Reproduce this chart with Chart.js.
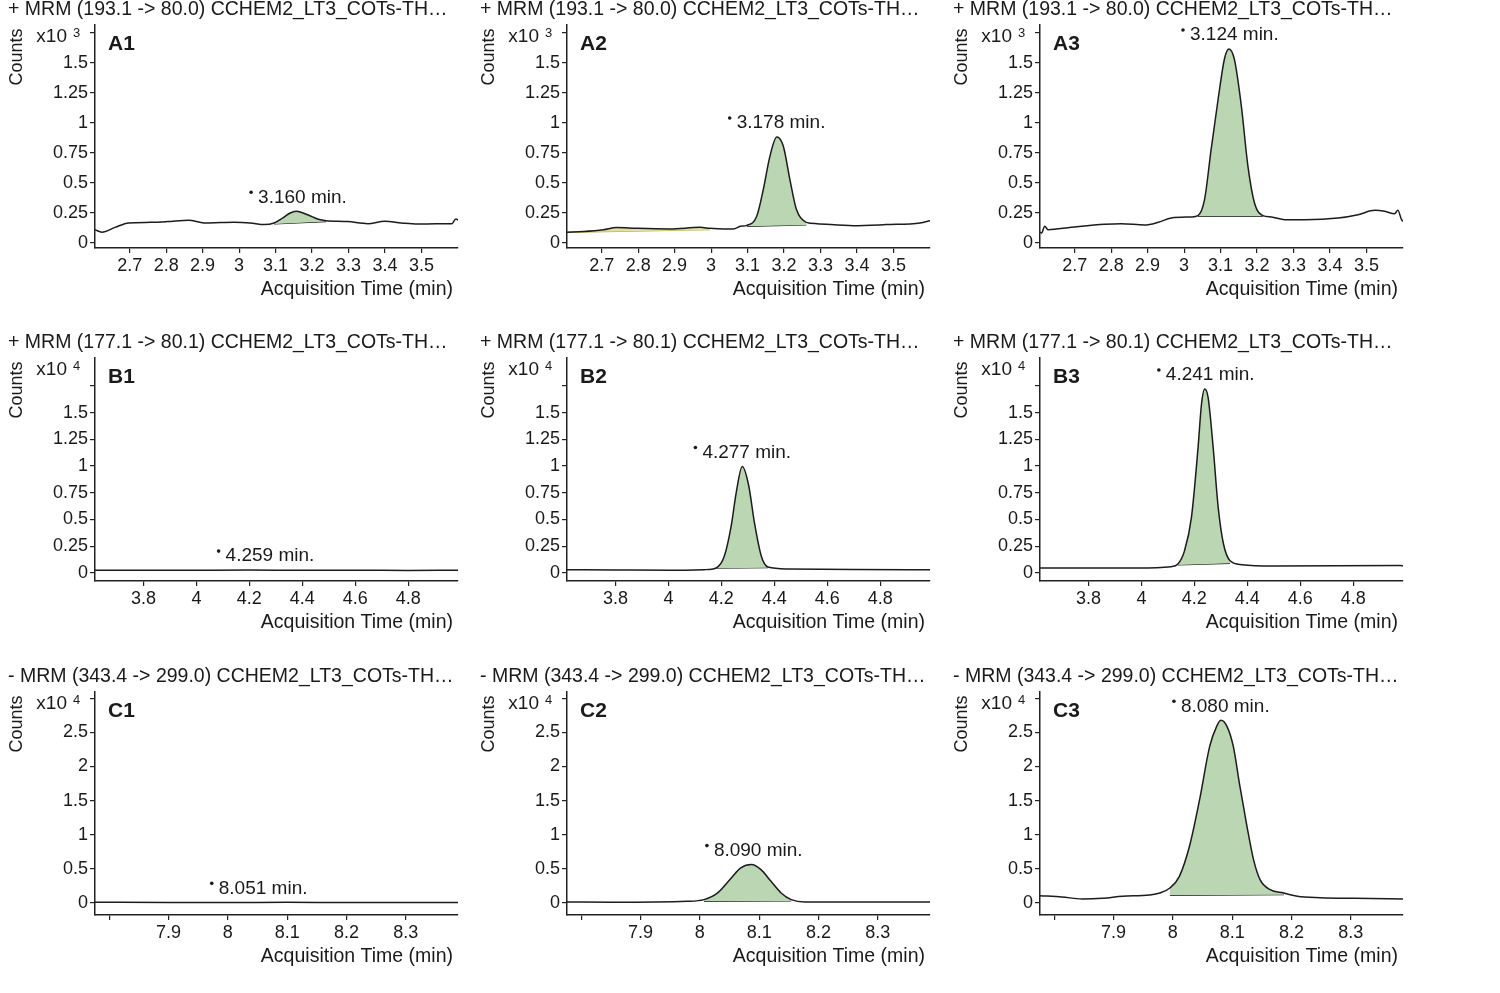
<!DOCTYPE html>
<html>
<head>
<meta charset="utf-8">
<script src="https://cdn.jsdelivr.net/npm/chart.js@4.4.1/dist/chart.umd.min.js"></script>
<style>
  html, body { margin: 0; padding: 0; background: #fff; }
  #wrap { position: relative; width: 1500px; height: 993px; overflow: hidden; }
  #wrap canvas { position: absolute; }
</style>
</head>
<body>
<div id="wrap"></div>
<script>
const FONT = "'Liberation Sans', Arial, sans-serif";

// ---- row settings (one compound per row) ----
const rowTitles = [
    '+ MRM (193.1 -> 80.0) CCHEM2_LT3_COTs-TH…',
    '+ MRM (177.1 -> 80.1) CCHEM2_LT3_COTs-TH…',
    '- MRM (343.4 -> 299.0) CCHEM2_LT3_COTs-TH…'
];
const rowExponents = ['3', '4', '4'];

const xRangeA = [2.605, 3.600];
const xRangeB = [3.617, 4.988];
const xRangeC = [7.776, 8.388];
const yRangeA = [-0.042, 1.817];
const yRangeB = [-0.075, 2.010];
const yRangeC = [-0.176, 3.090];

const xTicksA = [2.7, 2.8, 2.9, 3.0, 3.1, 3.2, 3.3, 3.4, 3.5];
const xLabelsA = ['2.7', '2.8', '2.9', '3', '3.1', '3.2', '3.3', '3.4', '3.5'];
const xTicksB = [3.8, 4.0, 4.2, 4.4, 4.6, 4.8];
const xLabelsB = ['3.8', '4', '4.2', '4.4', '4.6', '4.8'];
const xTicksC = [7.8, 7.9, 8.0, 8.1, 8.2, 8.3];
const xLabelsC = ['', '7.9', '8', '8.1', '8.2', '8.3'];

const yTicksAB = [0, 0.25, 0.5, 0.75, 1, 1.25, 1.5, 1.75];
const yLabelsAB = ['0', '0.25', '0.5', '0.75', '1', '1.25', '1.5', ''];
const yTicksC = [0, 0.5, 1, 1.5, 2, 2.5, 3];
const yLabelsC = ['0', '0.5', '1', '1.5', '2', '2.5', ''];

// ---- traces (time in min, counts in x10^n) ----
const timesA1 = [2.605, 2.624, 2.66, 2.697, 2.757, 2.803, 2.862, 2.904, 2.95, 2.986, 3.03, 3.069, 3.096, 3.12, 3.14, 3.156, 3.175, 3.2, 3.22, 3.238, 3.298, 3.353, 3.399, 3.445, 3.49, 3.54, 3.583, 3.594, 3.605];
const countsA1 = [0.11, 0.09, 0.13, 0.167, 0.172, 0.178, 0.19, 0.167, 0.17, 0.172, 0.167, 0.153, 0.167, 0.21, 0.25, 0.264, 0.25, 0.22, 0.195, 0.186, 0.178, 0.161, 0.181, 0.167, 0.158, 0.16, 0.161, 0.2, 0.18];

const timesA2 = [2.605, 2.65, 2.705, 2.741, 2.796, 2.887, 2.97, 2.997, 3.034, 3.061, 3.08, 3.098, 3.125, 3.143, 3.161, 3.18, 3.198, 3.216, 3.234, 3.261, 3.29, 3.39, 3.48, 3.573, 3.6];
const countsA2 = [0.089, 0.095, 0.11, 0.128, 0.122, 0.117, 0.13, 0.122, 0.117, 0.117, 0.139, 0.147, 0.222, 0.444, 0.72, 0.883, 0.806, 0.528, 0.278, 0.172, 0.161, 0.144, 0.153, 0.167, 0.186];

const timesA3 = [2.605, 2.609, 2.618, 2.627, 2.691, 2.782, 2.828, 2.892, 2.929, 2.965, 3.02, 3.038, 3.056, 3.074, 3.093, 3.111, 3.123, 3.138, 3.157, 3.175, 3.193, 3.216, 3.239, 3.276, 3.331, 3.422, 3.477, 3.523, 3.55, 3.577, 3.586, 3.596, 3.6];
const countsA3 = [0.09, 0.083, 0.139, 0.111, 0.131, 0.156, 0.161, 0.15, 0.172, 0.208, 0.217, 0.228, 0.361, 0.778, 1.194, 1.54, 1.617, 1.528, 1.139, 0.639, 0.333, 0.228, 0.217, 0.194, 0.194, 0.208, 0.236, 0.272, 0.264, 0.244, 0.272, 0.194, 0.18];

const timesB1 = [3.615, 3.8, 4.0, 4.2, 4.4, 4.6, 4.8, 4.99];
const countsB1 = [0.025, 0.025, 0.026, 0.027, 0.025, 0.025, 0.024, 0.025];

const timesB2 = [3.615, 3.8, 4.009, 4.135, 4.18, 4.211, 4.237, 4.256, 4.279, 4.303, 4.325, 4.351, 4.376, 4.452, 4.7, 4.99];
const countsB2 = [0.031, 0.028, 0.025, 0.031, 0.047, 0.156, 0.438, 0.75, 0.995, 0.82, 0.469, 0.156, 0.056, 0.038, 0.032, 0.031];

const timesB3 = [3.615, 3.985, 4.112, 4.138, 4.163, 4.189, 4.214, 4.227, 4.239, 4.252, 4.271, 4.29, 4.31, 4.335, 4.38, 4.494, 4.978, 4.99];
const countsB3 = [0.047, 0.047, 0.059, 0.084, 0.209, 0.52, 1.174, 1.58, 1.72, 1.64, 1.174, 0.614, 0.271, 0.115, 0.078, 0.065, 0.069, 0.065];

const timesC1 = [7.776, 7.9, 8.0, 8.1, 8.2, 8.3, 8.39];
const countsC1 = [0.01, 0.008, 0.008, 0.009, 0.008, 0.008, 0.008];

const timesC2 = [7.776, 7.85, 7.979, 8.007, 8.03, 8.053, 8.069, 8.087, 8.103, 8.12, 8.137, 8.154, 8.177, 8.3, 8.39];
const countsC2 = [0.015, 0.01, 0.024, 0.049, 0.147, 0.366, 0.513, 0.562, 0.488, 0.317, 0.147, 0.049, 0.015, 0.015, 0.015];

const timesC3 = [7.776, 7.813, 7.847, 7.881, 7.915, 7.96, 7.978, 7.995, 8.011, 8.028, 8.045, 8.062, 8.074, 8.081, 8.091, 8.102, 8.113, 8.125, 8.136, 8.147, 8.164, 8.187, 8.21, 8.249, 8.306, 8.39];
const countsC3 = [0.107, 0.088, 0.059, 0.068, 0.098, 0.117, 0.146, 0.22, 0.39, 0.83, 1.51, 2.29, 2.59, 2.676, 2.59, 2.29, 1.71, 1.12, 0.635, 0.342, 0.195, 0.146, 0.098, 0.078, 0.068, 0.059];

// ---- integration windows [start, end] and baselines [y start, y end] ----
const windowA1 = [3.096, 3.238], baseA1 = [0.158, 0.178];
const windowA2 = [3.098, 3.261], baseA2 = [0.139, 0.150];
const windowA2b = [2.605, 2.997], baseA2b = [0.089, 0.111];
const windowA3 = [3.038, 3.216], baseA3 = [0.222, 0.222];
const windowB2 = [4.18, 4.376], baseB2 = [0.044, 0.050];
const windowB3 = [4.138, 4.335], baseB3 = [0.075, 0.090];
const windowC2 = [8.007, 8.154], baseC2 = [0.025, 0.030];
const windowC3 = [7.995, 8.187], baseC3 = [0.112, 0.122];

// retention time labels
const rtA = [3.160, 3.178, 3.124];
const rtB = [4.259, 4.277, 4.241];
const rtC = [8.051, 8.090, 8.080];

const rows = [
    { xRange: xRangeA, yRange: yRangeA, xTicks: xTicksA, xLabels: xLabelsA, yTicks: yTicksAB, yLabels: yLabelsAB },
    { xRange: xRangeB, yRange: yRangeB, xTicks: xTicksB, xLabels: xLabelsB, yTicks: yTicksAB, yLabels: yLabelsAB },
    { xRange: xRangeC, yRange: yRangeC, xTicks: xTicksC, xLabels: xLabelsC, yTicks: yTicksC, yLabels: yLabelsC }
];

const GREEN = '#bad6b3';
const panels = [
    { id: 'A1', row: 0, col: 0, t: timesA1, c: countsA1, rt: rtA[0], peaks: [{ w: windowA1, b: baseA1 }] },
    { id: 'A2', row: 0, col: 1, t: timesA2, c: countsA2, rt: rtA[1], peaks: [{ w: windowA2, b: baseA2 }, { w: windowA2b, b: baseA2b, color: '#e2e0a4', line: '#b9b04a' }] },
    { id: 'A3', row: 0, col: 2, t: timesA3, c: countsA3, rt: rtA[2], peaks: [{ w: windowA3, b: baseA3 }] },
    { id: 'B1', row: 1, col: 0, t: timesB1, c: countsB1, rt: rtB[0], peaks: [] },
    { id: 'B2', row: 1, col: 1, t: timesB2, c: countsB2, rt: rtB[1], peaks: [{ w: windowB2, b: baseB2 }] },
    { id: 'B3', row: 1, col: 2, t: timesB3, c: countsB3, rt: rtB[2], peaks: [{ w: windowB3, b: baseB3 }] },
    { id: 'C1', row: 2, col: 0, t: timesC1, c: countsC1, rt: rtC[0], peaks: [] },
    { id: 'C2', row: 2, col: 1, t: timesC2, c: countsC2, rt: rtC[1], peaks: [{ w: windowC2, b: baseC2 }] },
    { id: 'C3', row: 2, col: 2, t: timesC3, c: countsC3, rt: rtC[2], peaks: [{ w: windowC3, b: baseC3 }] }
];

const colLeft = [0, 472, 945];
const rowTop = [0, 333, 667];
const W = 470, H = 330;

function apexValue(p) {
    if (p.peaks.length) {
        const w = p.peaks[0].w;
        return Math.max(...p.c.filter((v, i) => p.t[i] >= w[0] && p.t[i] <= w[1]));
    }
    let best = 0;
    p.t.forEach((t, i) => { if (Math.abs(t - p.rt) < Math.abs(p.t[best] - p.rt)) best = i; });
    return p.c[best];
}

const decorPlugin = {
    id: 'decor',
    afterDraw(chart) {
        const p = chart.options.plugins.decor.panel;
        const ctx = chart.ctx, a = chart.chartArea;
        const ink = '#1a1a1a';
        ctx.save();
        ctx.fillStyle = ink;
        ctx.textBaseline = 'middle';

        ctx.font = `19.5px ${FONT}`;
        ctx.textAlign = 'left';
        ctx.fillText(rowTitles[p.row], a.left - 87, a.top - 15);

        ctx.save();
        ctx.translate(a.left - 78, a.top + 32);
        ctx.rotate(-Math.PI / 2);
        ctx.font = `18px ${FONT}`;
        ctx.textAlign = 'center';
        ctx.fillText('Counts', 0, 0);
        ctx.restore();

        ctx.font = `19px ${FONT}`;
        ctx.textAlign = 'right';
        ctx.fillText('x10', a.left - 28, a.top + 12);
        ctx.font = `13px ${FONT}`;
        ctx.textAlign = 'left';
        ctx.fillText(rowExponents[p.row], a.left - 22, a.top + 8);

        ctx.font = `bold 21px ${FONT}`;
        ctx.fillText(p.id, a.left + 13, a.top + 19);

        ctx.font = `19.5px ${FONT}`;
        ctx.textAlign = 'right';
        ctx.fillText('Acquisition Time (min)', a.right - 5, a.bottom + 42);

        // retention time annotation
        const xs = chart.scales.x, ys = chart.scales.y;
        const label = p.rt.toFixed(3) + ' min.';
        ctx.font = `19px ${FONT}`;
        const tw = ctx.measureText(label).width;
        const cx = xs.getPixelForValue(p.rt) + 5;
        const cy = ys.getPixelForValue(apexValue(p)) - 14;
        ctx.textAlign = 'center';
        ctx.fillText(label, cx, cy);
        ctx.beginPath();
        ctx.arc(cx - tw / 2 - 7, cy - 5, 1.8, 0, Math.PI * 2);
        ctx.fill();
        ctx.restore();
    }
};

function makeChart(p) {
    const r = rows[p.row];
    const canvas = document.createElement('canvas');
    canvas.width = W;
    canvas.height = H;
    canvas.style.left = colLeft[p.col] + 'px';
    canvas.style.top = rowTop[p.row] + 'px';
    document.getElementById('wrap').appendChild(canvas);

    const pts = p.t.map((t, i) => ({ x: t, y: p.c[i] }));
    const datasets = [{
        data: pts, borderColor: '#1c1c1c', borderWidth: 1.5, pointRadius: 0,
        cubicInterpolationMode: 'monotone', fill: false
    }];
    p.peaks.forEach(pk => {
        datasets.push({
            data: pts.filter(q => q.x >= pk.w[0] && q.x <= pk.w[1]),
            borderWidth: 0, pointRadius: 0, cubicInterpolationMode: 'monotone',
            fill: '+1', backgroundColor: pk.color || GREEN
        });
        datasets.push({
            data: [{ x: pk.w[0], y: pk.b[0] }, { x: pk.w[1], y: pk.b[1] }],
            borderColor: pk.line || '#1c1c1c', borderWidth: 1.2, pointRadius: 0, fill: false
        });
    });

    const axisFont = { family: FONT, size: 18 };
    new Chart(canvas.getContext('2d'), {
        type: 'line',
        data: { datasets },
        options: {
            responsive: false,
            animation: false,
            devicePixelRatio: 1,
            layout: { padding: { top: 25, right: 12, left: 0, bottom: 0 } },
            plugins: { legend: { display: false }, tooltip: { enabled: false }, decor: { panel: p } },
            scales: {
                x: {
                    type: 'linear', min: r.xRange[0], max: r.xRange[1],
                    afterBuildTicks: s => { s.ticks = r.xTicks.map(v => ({ value: v })); },
                    afterFit: s => { s.height = 82; },
                    ticks: { autoSkip: false, maxRotation: 0, padding: 2, color: '#1a1a1a', font: axisFont,
                             callback: (v, i) => r.xLabels[i] },
                    grid: { drawOnChartArea: false, drawTicks: true, tickLength: 5, color: '#222', lineWidth: 1.2 },
                    border: { display: true, color: '#222', width: 1.5 }
                },
                y: {
                    type: 'linear', min: r.yRange[0], max: r.yRange[1],
                    afterBuildTicks: s => { s.ticks = r.yTicks.map(v => ({ value: v })); },
                    afterFit: s => { s.width = 95; },
                    ticks: { autoSkip: false, padding: 2, color: '#1a1a1a', font: axisFont,
                             callback: (v, i) => r.yLabels[i] },
                    grid: { drawOnChartArea: false, drawTicks: true, tickLength: 5, color: '#222', lineWidth: 1.2 },
                    border: { display: true, color: '#222', width: 1.5 }
                }
            }
        },
        plugins: [decorPlugin]
    });
}

panels.forEach(makeChart);
</script>
</body>
</html>
